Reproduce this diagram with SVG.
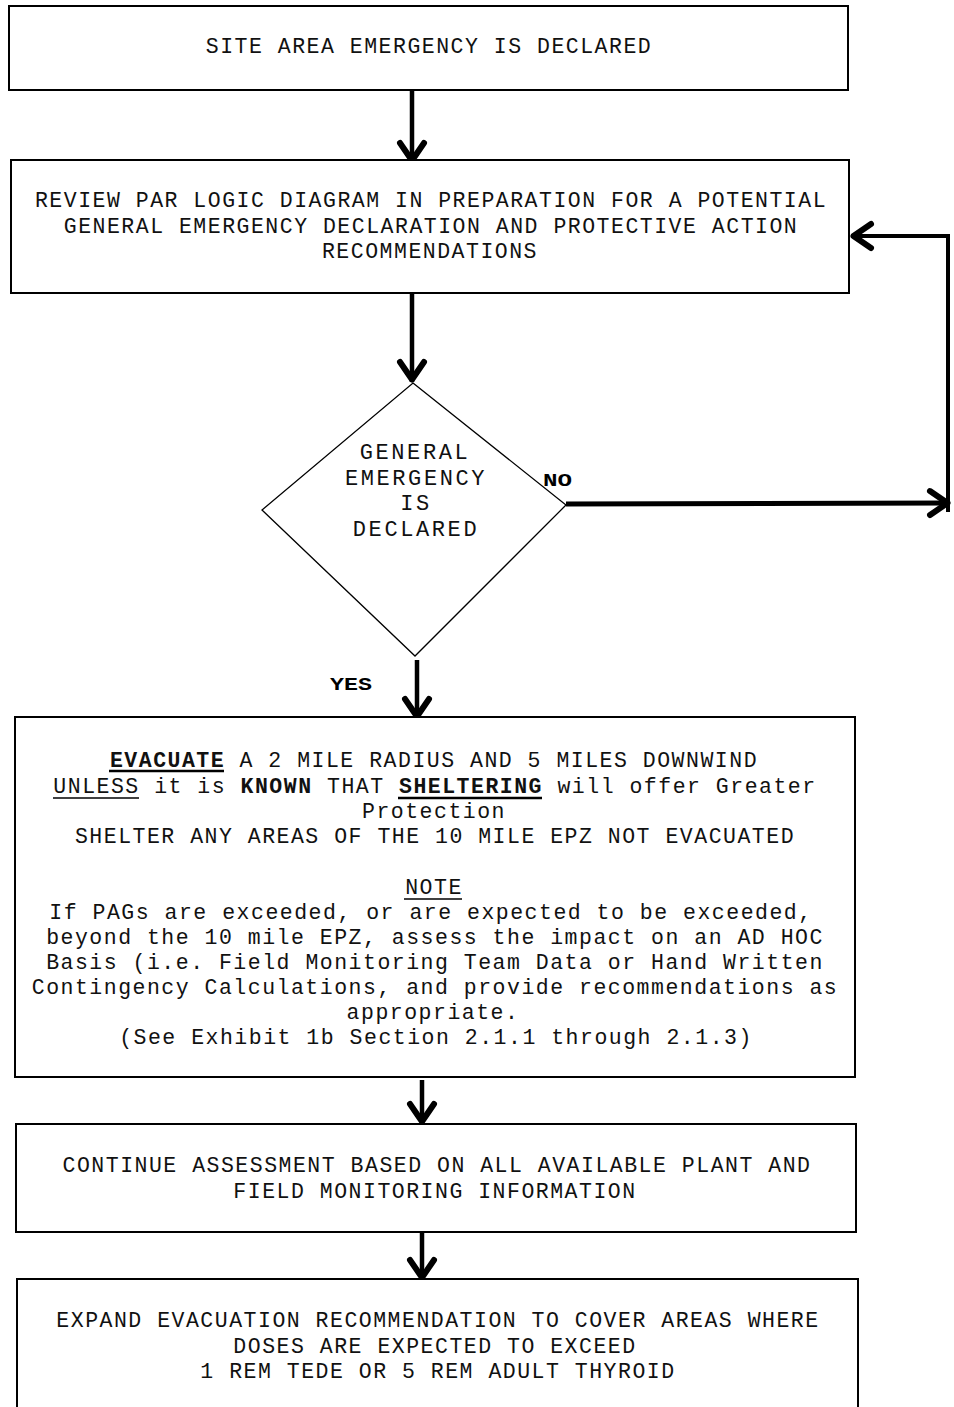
<svg xmlns="http://www.w3.org/2000/svg" width="954" height="1407" viewBox="0 0 954 1407">
<defs>
<style>
.box{fill:#fff;stroke:#000;stroke-width:2}
.dia{fill:#fff;stroke:#000;stroke-width:1.3}
.t{font-family:"Liberation Mono","Courier New",monospace;font-size:21.5px;letter-spacing:1.5px;fill:#111;text-anchor:middle}
.dt{font-family:"Liberation Mono","Courier New",monospace;font-size:22px;fill:#111;text-anchor:middle;letter-spacing:2.6px}
.b{font-weight:bold}
.lbl{font-family:"Liberation Mono","Courier New",monospace;font-size:19px;font-weight:bold;fill:#000}
.con{fill:none;stroke:#000;stroke-width:4.5;marker-end:url(#chev)}
.ul{stroke:#000}
</style>
<marker id="chev" markerUnits="userSpaceOnUse" viewBox="-26 -16 30 32" refX="0" refY="0" markerWidth="30" markerHeight="32" orient="auto">
<path d="M-20,-12 L-2.5,0 L-20,12" fill="none" stroke="#000" stroke-width="6" stroke-linecap="round" stroke-linejoin="round"/>
</marker>
</defs>
<rect width="954" height="1407" fill="#fff"/>

<g id="connectors">
<path class="con" d="M412,90 L412,163"/>
<path class="con" d="M412,293 L412,382"/>
<path class="con" style="stroke-width:5" d="M566,504 L950,503"/>
<path class="con" style="stroke-width:4" d="M948,512 L948,236 L851,236"/>
<path class="con" d="M417,660 L417,719"/>
<path class="con" d="M422,1080 L422,1124"/>
<path class="con" d="M422,1232 L422,1280"/>
</g>

<g id="n1">
<rect class="box" x="9" y="6" width="839" height="84"/>
<text class="t" x="429" y="53">SITE AREA EMERGENCY IS DECLARED</text>
</g>

<g id="n2">
<rect class="box" x="11" y="160" width="838" height="133"/>
<text class="t" x="431" y="207">REVIEW PAR LOGIC DIAGRAM IN PREPARATION FOR A POTENTIAL</text>
<text class="t" x="431" y="233">GENERAL EMERGENCY DECLARATION AND PROTECTIVE ACTION</text>
<text class="t" x="430" y="258">RECOMMENDATIONS</text>
</g>

<g id="n3">
<polygon class="dia" points="413,383 566,505 415,656 262,510"/>
<text class="dt" x="415" y="459">GENERAL</text>
<text class="dt" x="416" y="485">EMERGENCY</text>
<text class="dt" x="416" y="510">IS</text>
<text class="dt" x="416" y="536">DECLARED</text>
</g>

<g id="labels">
<text class="lbl" x="543" y="486" textLength="29" lengthAdjust="spacingAndGlyphs">NO</text>
<text class="lbl" x="330" y="690" textLength="42" lengthAdjust="spacingAndGlyphs">YES</text>
</g>

<g id="n4">
<rect class="box" x="15" y="717" width="840" height="360"/>
<text class="t" x="434" y="767"><tspan class="b">EVACUATE</tspan> A 2 MILE RADIUS AND 5 MILES DOWNWIND</text>
<line class="ul" x1="109" y1="771" x2="224" y2="771" stroke-width="2.5"/>
<text class="t" x="435" y="793">UNLESS it is <tspan class="b">KNOWN</tspan> THAT <tspan class="b">SHELTERING</tspan> will offer Greater</text>
<line class="ul" x1="53" y1="798" x2="139" y2="798" stroke-width="1.5"/>
<line class="ul" x1="398" y1="798" x2="542" y2="798" stroke-width="2.5"/>
<text class="t" x="434" y="818">Protection</text>
<text class="t" x="435" y="843">SHELTER ANY AREAS OF THE 10 MILE EPZ NOT EVACUATED</text>
<text class="t" x="434" y="894">NOTE</text>
<line class="ul" x1="404" y1="899" x2="462" y2="899" stroke-width="1.5"/>
<text class="t" x="431" y="919">If PAGs are exceeded, or are expected to be exceeded,</text>
<text class="t" x="435" y="944">beyond the 10 mile EPZ, assess the impact on an AD HOC</text>
<text class="t" x="435" y="969">Basis (i.e. Field Monitoring Team Data or Hand Written</text>
<text class="t" x="435" y="994">Contingency Calculations, and provide recommendations as</text>
<text class="t" x="433" y="1019">appropriate.</text>
<text class="t" x="436" y="1044">(See Exhibit 1b Section 2.1.1 through 2.1.3)</text>
</g>

<g id="n5">
<rect class="box" x="16" y="1124" width="840" height="108"/>
<text class="t" x="437" y="1172">CONTINUE ASSESSMENT BASED ON ALL AVAILABLE PLANT AND</text>
<text class="t" x="435" y="1198">FIELD MONITORING INFORMATION</text>
</g>

<g id="n6">
<rect class="box" x="17" y="1279" width="841" height="150"/>
<text class="t" x="438" y="1327">EXPAND EVACUATION RECOMMENDATION TO COVER AREAS WHERE</text>
<text class="t" x="435" y="1353">DOSES ARE EXPECTED TO EXCEED</text>
<text class="t" x="438" y="1378">1 REM TEDE OR 5 REM ADULT THYROID</text>
</g>
</svg>
